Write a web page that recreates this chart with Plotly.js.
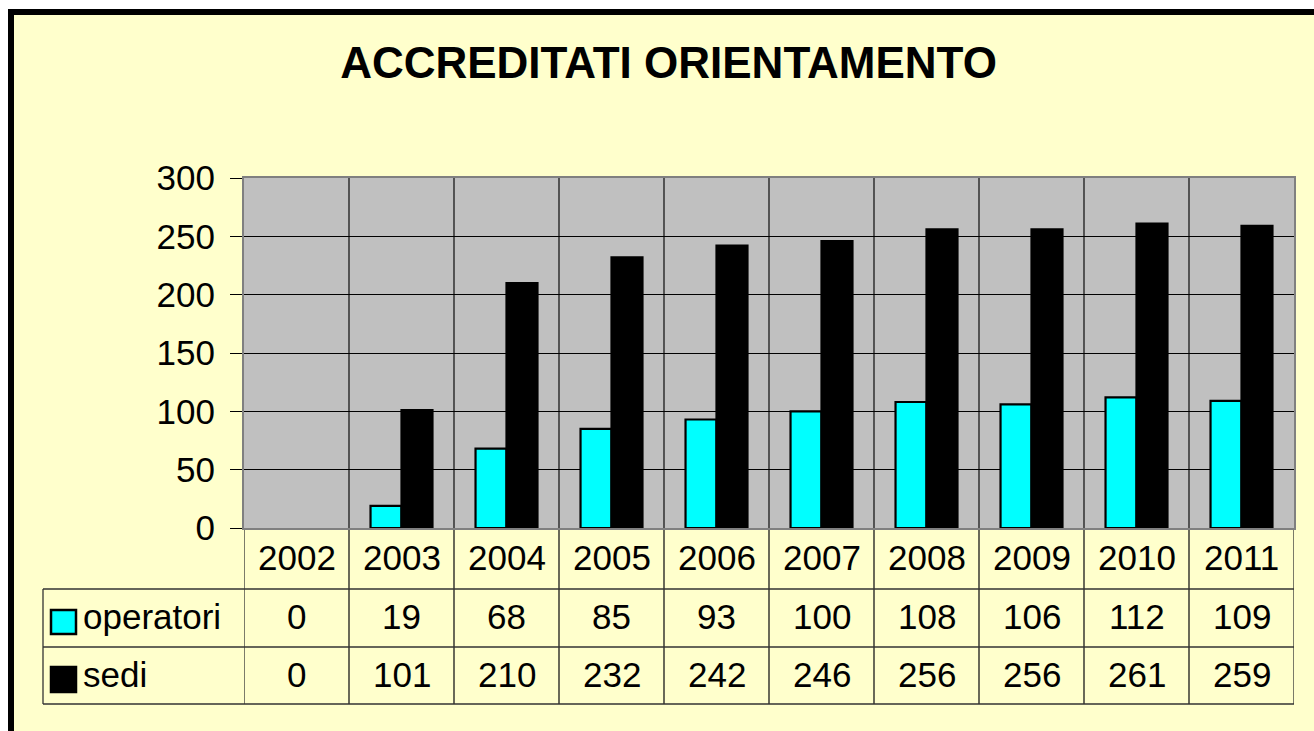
<!DOCTYPE html>
<html>
<head>
<meta charset="utf-8">
<script src="https://cdn.plot.ly/plotly-3.0.1.min.js"></script>
<style>
html,body{margin:0;padding:0;background:#fff;overflow:hidden;width:1314px;height:731px;}
#wrap{position:absolute;left:8px;top:9px;width:1300px;height:716px;border-left:6px solid #000;border-top:6px solid #000;background:#FFFFCC;}
#chart{width:1300px;height:716px;}
</style>
</head>
<body>
<div id="wrap"><div id="chart"></div></div>
<script>
// ---- data ----
const chartTitle = 'ACCREDITATI ORIENTAMENTO';
const years = ['2002','2003','2004','2005','2006','2007','2008','2009','2010','2011'];
const seriesNames = ['operatori','sedi'];
const operatori = [0,19,68,85,93,100,108,106,112,109];
const sedi = [0,101,210,232,242,246,256,256,261,259];
const seriesColors = ['#00FFFF','#000000'];
const yTicks = [0,50,100,150,200,250,300];

// ---- layout geometry (page pixels) ----
const OX = 14, OY = 15;               // plot div origin in page
const PL = 244, PR = 1294, PT = 178, PB = 528;
const W = 1300, H = 716;
const pw = PR - PL, ph = PB - PT;
const pxX = x => (x - PL) / pw;
const pxY = y => (PB - y) / ph;

const TABLE_LEFT = 43, ROW1 = 589, ROW2 = 647, ROW3 = 704;
const FONT = 'Arial, "Liberation Sans", sans-serif';
const FS = 35;
const LINE = '#333333';
const TEXT_SHIFT = -1.5;

const seriesValues = [operatori, sedi];

const traces = seriesNames.map((name, k) => ({
  type: 'bar',
  name: name,
  x: years,
  y: seriesValues[k],
  marker: {color: seriesColors[k],
    line: {color: '#000', width: seriesValues[k].map(v => v === 0 ? 0 : 2.2)}},
  hoverinfo: 'x+y+name'
}));

const shapes = [];
// vertical category boundaries (through plot and table)
for (let i = 0; i <= years.length; i++) {
  const edge = (i === 0 || i === years.length);
  shapes.push({type:'line', xref:'x', yref:'paper', x0:i-0.5, x1:i-0.5,
    y0:pxY(ROW3), y1:edge ? 0 : 1,
    line:{color: edge ? LINE : '#1a1a1a', width:1.3}, layer:'below'});
}
// left edge of label column
shapes.push({type:'line', xref:'paper', yref:'paper', x0:pxX(TABLE_LEFT), x1:pxX(TABLE_LEFT),
  y0:pxY(ROW1), y1:pxY(ROW3), line:{color:LINE, width:1.3}});
// horizontal table lines
[ROW1, ROW2, ROW3].forEach(r => shapes.push({type:'line', xref:'paper', yref:'paper',
  x0:pxX(TABLE_LEFT), x1:1, y0:pxY(r), y1:pxY(r), line:{color:LINE, width:1.3}}));
// legend keys
const keyRows = [[610,634],[667,692]];
seriesNames.forEach((n, k) => shapes.push({type:'rect', xref:'paper', yref:'paper',
  x0:pxX(51), x1:pxX(76), y0:pxY(keyRows[k][1]), y1:pxY(keyRows[k][0]),
  fillcolor: seriesColors[k], line:{color:'#000', width:2.5}}));

const annotations = [];
const yearRowY = pxY((PB + ROW1) / 2 + TEXT_SHIFT);
const rowY = [pxY((ROW1 + ROW2) / 2 + TEXT_SHIFT), pxY((ROW2 + ROW3) / 2 + TEXT_SHIFT)];
years.forEach((yr, i) => {
  annotations.push({xref:'x', yref:'paper', x:i, y:yearRowY, text:yr, showarrow:false,
    xanchor:'center', yanchor:'middle', font:{family:FONT, size:FS, color:'#000'}});
  seriesValues.forEach((vals, k) => annotations.push({xref:'x', yref:'paper', x:i, y:rowY[k],
    text:String(vals[i]), showarrow:false, xanchor:'center', yanchor:'middle',
    font:{family:FONT, size:FS, color:'#000'}}));
});
seriesNames.forEach((n, k) => annotations.push({xref:'paper', yref:'paper', x:pxX(81), y:rowY[k],
  text:n, showarrow:false, xanchor:'left', yanchor:'middle', font:{family:FONT, size:FS, color:'#000'}}));

const layout = {
  width: W, height: H,
  margin: {l: PL - OX, r: W - (PR - OX), t: PT - OY, b: H - (PB - OY), pad: 0},
  paper_bgcolor: '#FFFFCC',
  plot_bgcolor: '#C0C0C0',
  title: {text: '<b>' + chartTitle + '</b>', font: {family: FONT, size: 44, color: '#000'},
    xref: 'container', yref: 'container', x: (668.5 - OX) / W, xanchor: 'center',
    y: 1 - (63 - OY) / H, yanchor: 'middle'},
  showlegend: false,
  barmode: 'group',
  bargap: 0.41,
  bargroupgap: 0,
  xaxis: {type:'category', range:[-0.5, years.length - 0.5], autorange:false,
    showticklabels:false, ticks:'', showgrid:false, zeroline:false,
    showline:true, mirror:true, linecolor:'#808080', linewidth:2, fixedrange:true},
  yaxis: {range:[0,300], autorange:false, tickvals:yTicks, ticktext:yTicks.map(String), showgrid:true, gridcolor:'#000', gridwidth:1,
    zeroline:false, showline:true, mirror:true, linecolor:'#808080', linewidth:2,
    ticks:'outside', ticklen:12, tickcolor:'#000', tickwidth:1, ticklabelstandoff:8,
    tickfont:{family:FONT, size:FS, color:'#000'}, fixedrange:true},
  shapes: shapes,
  annotations: annotations
};

Plotly.newPlot('chart', traces, layout, {displayModeBar:false, staticPlot:true});
</script>
</body>
</html>
